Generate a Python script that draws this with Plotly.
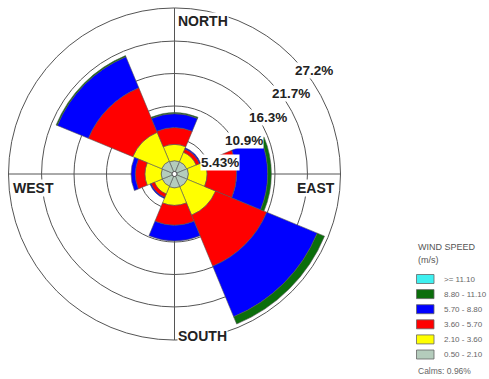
import plotly.graph_objects as go

# ---- data ----
directions = [0, 45, 90, 135, 180, 225, 270, 315]   # N, NE, E, SE, S, SW, W, NW
speed_bins = ["0.50 - 2.10", "2.10 - 3.60", "3.60 - 5.70", "5.70 - 8.80", "8.80 - 11.10", ">= 11.10"]
freq_050_210 = [1.8, 1.8, 1.9, 1.9, 1.9, 1.8, 1.8, 1.9]
freq_210_360 = [2.7, 1.7, 3.1, 5.1, 2.9, 1.4, 2.7, 5.2]
freq_360_570 = [2.8, 0.6, 4.9, 9.2, 3.3, 0.6, 1.6, 8.0]
freq_570_880 = [2.3, 0.2, 5.2, 9.1, 2.6, 0.2, 0.7, 5.6]
freq_880_1110 = [0.2, 0.0, 0.6, 1.3, 0.0, 0.0, 0.0, 0.2]
freq_ge_1110 = [0.0, 0.0, 0.0, 0.0, 0.0, 0.0, 0.0, 0.0]
ring_ticks = [5.43, 10.9, 16.3, 21.7, 27.2]
ring_labels = ["5.43%", "10.9%", "16.3%", "21.7%", "27.2%"]
compass_labels = ["NORTH", "EAST", "SOUTH", "WEST"]
calms_text = "Calms: 0.96%"

series = [freq_050_210, freq_210_360, freq_360_570, freq_570_880, freq_880_1110, freq_ge_1110]
colors = ["#b4ccbc", "#ffff00", "#ff0000", "#0000ff", "#0b6e0b", "#3ef0f0"]

W, H = 489, 379
def px(x):
    return x / W
def py(y):
    return 1 - y / H

fig = go.Figure()
for name, vals, col in zip(speed_bins, series, colors):
    fig.add_trace(go.Barpolar(
        r=vals, theta=directions, width=[45] * len(directions), name=name,
        marker=dict(color=col, line=dict(color="#555555", width=0.6)),
        showlegend=False,
    ))

fig.update_layout(
    width=W, height=H, autosize=False,
    margin=dict(l=0, r=0, t=0, b=0),
    paper_bgcolor="white", plot_bgcolor="white",
    polar=dict(
        domain=dict(x=[px(8.5), px(340.5)], y=[py(340), py(8)]),
        bgcolor="white",
        hole=0.015,
        barmode="stack",
        radialaxis=dict(range=[0, ring_ticks[-1]], tickvals=ring_ticks[:-1],
                        showticklabels=False, ticks="", showline=False,
                        gridcolor="#555555", gridwidth=1),
        angularaxis=dict(rotation=90, direction="clockwise",
                         tickvals=[0, 90, 180, 270], showticklabels=False, ticks="",
                         showline=True, linecolor="#555555", linewidth=1,
                         gridcolor="#555555", gridwidth=1),
    ),
)

font_b = "Liberation Sans, Arial, sans-serif"
annotations = []
# compass labels
comp_pos = [(177, 21, "left"), (316, 188, "center"), (177, 336, "left"), (33, 188, "center")]
for lab, (x, y, xa) in zip(compass_labels, comp_pos):
    annotations.append(dict(x=px(x), y=py(y), xref="paper", yref="paper", text="<b>%s</b>" % lab,
                            showarrow=False, xanchor=xa, yanchor="middle",
                            font=dict(family=font_b, size=14, color="#222222"),
                            bgcolor="white", borderpad=0))
# ring labels
ring_pos = [(220, 163), (244, 140), (268, 118), (291, 94), (314, 71)]
for lab, (x, y) in zip(ring_labels, ring_pos):
    annotations.append(dict(x=px(x), y=py(y), xref="paper", yref="paper", text="<b>%s</b>" % lab,
                            showarrow=False, xanchor="center", yanchor="middle",
                            font=dict(family=font_b, size=13.5, color="#222222"),
                            bgcolor="white", borderpad=0))

# legend (drawn manually)
shapes = []
annotations.append(dict(x=px(416), y=py(246.5), xref="paper", yref="paper", text="WIND SPEED",
                        showarrow=False, xanchor="left", yanchor="middle",
                        font=dict(family=font_b, size=9, color="#555555")))
annotations.append(dict(x=px(416), y=py(260), xref="paper", yref="paper", text="(m/s)",
                        showarrow=False, xanchor="left", yanchor="middle",
                        font=dict(family=font_b, size=9, color="#555555")))
leg_order = list(range(len(speed_bins)))[::-1]
for k, i in enumerate(leg_order):
    yc = 279 + 15.1 * k
    shapes.append(dict(type="rect", xref="paper", yref="paper",
                       x0=px(416.5), x1=px(434), y0=py(yc + 4.5), y1=py(yc - 4.5),
                       fillcolor=colors[i], line=dict(color="#666666", width=0.8)))
    annotations.append(dict(x=px(442), y=py(yc), xref="paper", yref="paper", text=speed_bins[i],
                            showarrow=False, xanchor="left", yanchor="middle",
                            font=dict(family=font_b, size=8, color="#666666")))
annotations.append(dict(x=px(416), y=py(371), xref="paper", yref="paper", text=calms_text,
                        showarrow=False, xanchor="left", yanchor="middle",
                        font=dict(family=font_b, size=8.5, color="#666666")))

fig.update_layout(annotations=annotations, shapes=shapes)
fig.write_html("out.html")
